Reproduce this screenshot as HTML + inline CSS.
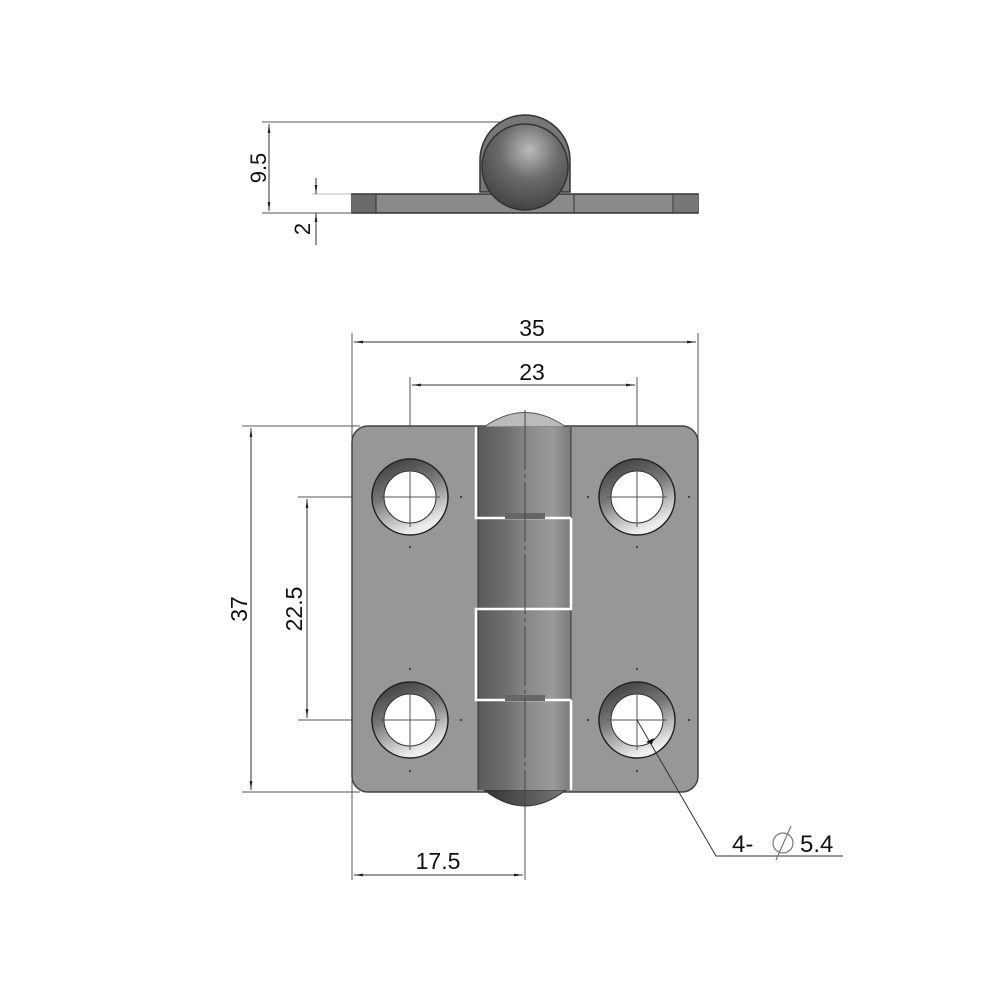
<!DOCTYPE html>
<html><head><meta charset="utf-8"><style>html,body{margin:0;padding:0;background:#fff}svg{display:block}text{font-family:"Liberation Sans",sans-serif;fill:#111}</style></head>
<body>
<svg width="1000" height="1000" viewBox="0 0 1000 1000" xmlns="http://www.w3.org/2000/svg">
<defs>
<marker id="a" viewBox="0 0 10 10" refX="10" refY="5" markerWidth="9" markerHeight="9" orient="auto-start-reverse"><path d="M0,3.5 L10,5 L0,6.5z" fill="#222"/></marker>
<linearGradient id="kn" x1="0" x2="1" y1="0" y2="0">
<stop offset="0" stop-color="#5a5a5a"/><stop offset="0.3" stop-color="#6e6e6e"/><stop offset="0.55" stop-color="#8a8a8a"/><stop offset="0.8" stop-color="#9a9a9a"/><stop offset="1" stop-color="#7a7a7a"/></linearGradient>
<linearGradient id="ring" x1="0" y1="0" x2="0.4" y2="1"><stop offset="0" stop-color="#333"/><stop offset="0.5" stop-color="#777"/><stop offset="1" stop-color="#eee"/></linearGradient>
<radialGradient id="ball" cx="0.55" cy="0.3" r="0.7"><stop offset="0" stop-color="#bbb"/><stop offset="0.5" stop-color="#6a6a6a"/><stop offset="1" stop-color="#444"/></radialGradient>
<linearGradient id="end" x1="0" x2="1"><stop offset="0" stop-color="#333"/><stop offset="1" stop-color="#777"/></linearGradient>
</defs>

<!-- TOP VIEW -->
<g stroke="#555" stroke-width="1" fill="none">
<line x1="262" y1="122" x2="525" y2="122"/>
<line x1="262" y1="213" x2="352" y2="213"/>
<line x1="312" y1="194" x2="352" y2="194" stroke="#bbb"/>
</g>
<line x1="269" y1="124" x2="269" y2="211" stroke="#333" marker-start="url(#a)" marker-end="url(#a)"/>
<line x1="316" y1="178" x2="316" y2="194" stroke="#333" marker-end="url(#a)"/>
<line x1="316" y1="245" x2="316" y2="213" stroke="#333" marker-end="url(#a)"/>
<text transform="translate(266,168) rotate(-90)" font-size="22" text-anchor="middle">9.5</text>
<text transform="translate(310,229) rotate(-90)" font-size="22" text-anchor="middle">2</text>
<rect x="352" y="194" width="346" height="19" fill="#8a8a8a" stroke="#333" stroke-width="1.5"/>
<rect x="352" y="195" width="24" height="17" fill="#6a6a6a"/>
<rect x="674" y="195" width="24" height="17" fill="#777"/>
<line x1="376" y1="194" x2="376" y2="213" stroke="#333"/>
<line x1="574" y1="194" x2="574" y2="213" stroke="#333"/>
<line x1="673" y1="194" x2="673" y2="213" stroke="#333"/>
<path d="M480,192 L480,160 A45,45 0 0 1 570,160 L570,192 Z" fill="#777" stroke="#333" stroke-width="1.5"/>
<circle cx="525" cy="167" r="43" fill="url(#ball)" stroke="#333" stroke-width="1.5"/>

<!-- PLAN VIEW dimension lines -->
<g stroke="#555" stroke-width="1">
<line x1="352" y1="333" x2="352" y2="880"/>
<line x1="698" y1="333" x2="698" y2="440"/>
<line x1="410" y1="377" x2="410" y2="497"/>
<line x1="637" y1="377" x2="637" y2="497"/>
<line x1="242" y1="426" x2="360" y2="426"/>
<line x1="242" y1="792" x2="360" y2="792"/>
<line x1="298" y1="497" x2="410" y2="497"/>
<line x1="298" y1="720" x2="410" y2="720"/>
<line x1="525" y1="790" x2="525" y2="880"/>
</g>
<line x1="354" y1="342" x2="696" y2="342" stroke="#333" marker-start="url(#a)" marker-end="url(#a)"/>
<line x1="412" y1="385" x2="635" y2="385" stroke="#333" marker-start="url(#a)" marker-end="url(#a)"/>
<line x1="251" y1="428" x2="251" y2="790" stroke="#333" marker-start="url(#a)" marker-end="url(#a)"/>
<line x1="307" y1="499" x2="307" y2="718" stroke="#333" marker-start="url(#a)" marker-end="url(#a)"/>
<line x1="354" y1="875" x2="523" y2="875" stroke="#333" marker-start="url(#a)" marker-end="url(#a)"/>
<text x="532" y="336" font-size="23" text-anchor="middle">35</text>
<text x="532" y="380" font-size="23" text-anchor="middle">23</text>
<text transform="translate(247,609) rotate(-90)" font-size="23" text-anchor="middle">37</text>
<text transform="translate(302,609) rotate(-90)" font-size="23" text-anchor="middle">22.5</text>
<text x="438" y="869" font-size="23" text-anchor="middle">17.5</text>

<!-- plate -->
<rect x="352" y="426" width="346" height="366" rx="16" fill="#979797" stroke="#444" stroke-width="1.5"/>
<!-- domes -->
<path d="M484,427 Q525,398 566,427 Z" fill="#bbb" stroke="#555"/>
<path d="M484,790 Q525,822 566,790 Z" fill="url(#end)" stroke="#333"/>
<!-- knuckle -->
<rect x="478" y="427" width="93" height="363" fill="url(#kn)"/>
<line x1="478" y1="427" x2="478" y2="790" stroke="#333"/>
<line x1="571" y1="427" x2="571" y2="790" stroke="#333"/>
<g fill="none" stroke="#fff" stroke-width="2.5">
<path d="M476,427 L476,518 L571,518"/>
<path d="M571,518 L571,609 L476,609 L476,700 L571,700"/>
<path d="M571,700 L571,790"/>
</g>
<rect x="505" y="513" width="40" height="6" fill="#666"/>
<rect x="505" y="695" width="40" height="6" fill="#666"/>
<line x1="525" y1="410" x2="525" y2="810" stroke="#444" stroke-width="1" stroke-dasharray="60,4,4,4"/>

<!-- holes -->
<g>
<circle cx="410" cy="497" r="38" fill="url(#ring)" stroke="#222" stroke-width="1.5"/><circle cx="410" cy="497" r="26" fill="#fff" stroke="#333"/>
<circle cx="637" cy="497" r="38" fill="url(#ring)" stroke="#222" stroke-width="1.5"/><circle cx="637" cy="497" r="26" fill="#fff" stroke="#333"/>
<circle cx="410" cy="720" r="38" fill="url(#ring)" stroke="#222" stroke-width="1.5"/><circle cx="410" cy="720" r="26" fill="#fff" stroke="#333"/>
<circle cx="637" cy="720" r="38" fill="url(#ring)" stroke="#222" stroke-width="1.5"/><circle cx="637" cy="720" r="26" fill="#fff" stroke="#333"/>
</g>
<g stroke="#555" stroke-width="1">
<line x1="380" y1="497" x2="440" y2="497"/><line x1="410" y1="467" x2="410" y2="527"/>
<line x1="607" y1="497" x2="667" y2="497"/><line x1="637" y1="467" x2="637" y2="527"/>
<line x1="380" y1="720" x2="440" y2="720"/><line x1="410" y1="690" x2="410" y2="750"/>
<line x1="607" y1="720" x2="667" y2="720"/><line x1="637" y1="690" x2="637" y2="750"/>
</g>
<g fill="#444">
<rect x="460" y="496" width="2" height="2"/><rect x="409" y="546" width="2" height="2"/>
<rect x="587" y="496" width="2" height="2"/><rect x="688" y="496" width="2" height="2"/><rect x="636" y="546" width="2" height="2"/>
<rect x="409" y="668" width="2" height="2"/><rect x="460" y="719" width="2" height="2"/><rect x="409" y="770" width="2" height="2"/>
<rect x="636" y="668" width="2" height="2"/><rect x="587" y="719" width="2" height="2"/><rect x="688" y="719" width="2" height="2"/><rect x="636" y="770" width="2" height="2"/>
</g>
<!-- leader -->
<polyline points="637,720 716,856 843,856" fill="none" stroke="#333" stroke-width="1"/>
<path d="M652,744 l-6,-2 l8,-4 z" fill="#111"/>
<text x="732" y="852" font-size="24">4-</text>
<circle cx="783" cy="843" r="10" fill="none" stroke="#777" stroke-width="1.2"/>
<line x1="776" y1="860" x2="791" y2="826" stroke="#777" stroke-width="1.2"/>
<text x="800" y="852" font-size="24">5.4</text>
</svg>
</body></html>
